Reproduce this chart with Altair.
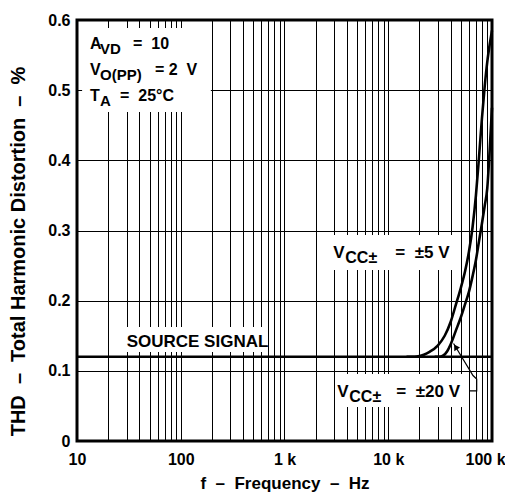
import altair as alt
import pandas as pd

FONT = "Liberation Sans"
NB = "\u00a0"

# axis grid / tick values
x_ticks = [10, 20, 30, 40, 50, 60, 70, 80, 90,
           100, 200, 300, 400, 500, 600, 700, 800, 900,
           1000, 2000, 3000, 4000, 5000, 6000, 7000, 8000, 9000,
           10000, 20000, 30000, 40000, 50000, 60000, 70000, 80000, 90000,
           100000]
y_ticks = [0, 0.1, 0.2, 0.3, 0.4, 0.5, 0.6]

# source signal (flat)
src_f = [10, 100000]
src_v = [0.12, 0.12]

# VCC = +-5 V
f_5v = [15000, 18000, 20000, 22000, 25000, 30000, 35000, 40000, 45000, 50000,
        55000, 60000, 65000, 70000, 75000, 80000, 85000, 90000, 95000, 100000]
v_5v = [0.12, 0.12, 0.121, 0.123, 0.127, 0.136, 0.150, 0.170, 0.195, 0.218,
        0.242, 0.270, 0.305, 0.350, 0.405, 0.460, 0.505, 0.540, 0.565, 0.585]

# VCC = +-20 V
f_20v = [28000, 31000, 34000, 37000, 40000, 45000, 50000, 55000, 60000, 65000,
         70000, 75000, 80000, 85000, 90000, 95000, 100000]
v_20v = [0.12, 0.12, 0.122, 0.128, 0.138, 0.158, 0.176, 0.195, 0.213, 0.235,
         0.258, 0.285, 0.310, 0.335, 0.360, 0.415, 0.475]

# white label backgrounds (Hz / %)
mask_f = [11.2, 22.2, 2745, 3133]
mask_f2 = [195, 660, 44000, 56000]
mask_v = [0.469, 0.1268, 0.2437, 0.0485]
mask_v2 = [0.5886, 0.1625, 0.2936, 0.0955]

# leader line for the +-20 V label
lead_f = [60000, 71200, 71200, 65600, 42600]
lead_v = [0.0713, 0.0713, 0.0884, 0.0933, 0.139]
arrow_f = [44600]
arrow_v = [0.1341]

# annotation text segments
lab_f = [13.35, 13.35, 13.35, 13.35, 13.35, 13.35, 13.35, 13.35, 13.35,
         30.1,
         2954, 2954, 2954,
         3228, 3228, 3228]
lab_v = [0.558, 0.558, 0.558, 0.521, 0.521, 0.521, 0.484, 0.484, 0.484,
         0.1344,
         0.2604, 0.2604, 0.2604,
         0.0631, 0.0631, 0.0631]
lab_text = ["A", "VD", "=  10", "V", "O(PP)", "= 2  V", "T", "A", "=  25°C",
            "SOURCE SIGNAL",
            "V", "CC±", "=  ±5 V",
            "V", "CC±", "=  ±20 V"]
lab_dx = [0, 10, 43, 0, 10, 65, 0, 10, 30,
          0,
          0, 12, 62,
          0, 12, 59]
lab_dy = [0, 5, 0, 0, 5, 0, 0, 5, 0,
          0,
          0, 5, 0,
          0, 5, 0]
lab_size = [16, 15, 16, 16, 15, 16, 16, 15, 16,
            17,
            17, 16, 17,
            17, 16, 17]

x_label_expr = ("datum.value == 10 ? '10' : datum.value == 100 ? '100' : "
                "datum.value == 1000 ? '1" + NB + "k' : datum.value == 10000 ? '10" + NB + "k' : "
                "datum.value == 100000 ? '100" + NB + "k' : ''")

x_axis = alt.Axis(values=x_ticks, labelExpr=x_label_expr, labelFlush=False,
                  labelOverlap=False, grid=True, gridColor="black", gridWidth=1,
                  gridOpacity=1, domain=False, ticks=False, labelPadding=10,
                  labelOffset={"condition": {"test": "datum.value == 100000", "value": -7},
                               "value": 0},
                  labelFontSize=16, labelFont=FONT, labelFontWeight="bold",
                  labelColor="black",
                  title=f"f{NB}{NB}–{NB}{NB}Frequency{NB}{NB}–{NB}{NB}Hz",
                  titleFont=FONT, titleFontSize=17, titleFontWeight="bold",
                  titleColor="black", titleY=47, titleBaseline="alphabetic")
y_axis = alt.Axis(values=y_ticks,
                  labelExpr="datum.value == 0 ? '0' : format(datum.value, '.1f')",
                  grid=True, gridColor="black", gridWidth=1, gridOpacity=1,
                  domain=False, ticks=False, labelPadding=7, labelFontSize=16,
                  labelFont=FONT, labelFontWeight="bold", labelColor="black",
                  title=f"THD{NB}{NB}–{NB}{NB}Total Harmonic Distortion{NB}{NB}–{NB}{NB}%",
                  titleFont=FONT,
                  titleFontSize=20, titleFontWeight="bold", titleColor="black",
                  titleAngle=270, titleX=-59, titleY=231, titleAlign="center",
                  titleBaseline="middle")

xs = alt.Scale(type="log", domain=[10, 100000], nice=False)
ys = alt.Scale(domain=[0, 0.6], nice=False, zero=False)


def X(field="f"):
    return alt.X(f"{field}:Q", scale=xs, axis=x_axis)


def Y(field="v"):
    return alt.Y(f"{field}:Q", scale=ys, axis=y_axis)


masks = alt.Chart(pd.DataFrame({"f": mask_f, "f2": mask_f2, "v": mask_v, "v2": mask_v2})).mark_rect(
    color="white").encode(x=X(), x2="f2:Q", y=Y(), y2="v2:Q")

rows = []
for f, v in zip(src_f, src_v):
    rows.append({"s": "src", "f": f, "v": v})
for f, v in zip(f_5v, v_5v):
    rows.append({"s": "5v", "f": f, "v": v})
for f, v in zip(f_20v, v_20v):
    rows.append({"s": "20v", "f": f, "v": v})
curves = alt.Chart(pd.DataFrame(rows)).mark_line(
    color="black", strokeWidth=2.6, interpolate="monotone").encode(
    x=X(), y=Y(), detail="s:N")

leader = alt.Chart(pd.DataFrame({"f": lead_f, "v": lead_v, "i": list(range(len(lead_f)))})).mark_line(
    color="black", strokeWidth=1.2).encode(x=X(), y=Y(), order="i:Q")
arrow = alt.Chart(pd.DataFrame({"f": arrow_f, "v": arrow_v})).mark_point(
    shape="triangle-up", filled=True, color="black", opacity=1, size=45, angle=328).encode(
    x=X(), y=Y())

layers = [masks, curves, leader, arrow]
for f, v, t, dx, dy, sz in zip(lab_f, lab_v, lab_text, lab_dx, lab_dy, lab_size):
    layers.append(
        alt.Chart(pd.DataFrame({"f": [f], "v": [v], "t": [t.replace(" ", NB)]})).mark_text(
            align="left", baseline="alphabetic", font=FONT, fontWeight="bold",
            fontSize=sz, color="black", dx=dx, dy=dy).encode(x=X(), y=Y(), text="t:N")
    )

chart = alt.layer(*layers).properties(
    width=415, height=421,
    autosize=alt.AutoSizeParams(type="none"),
    padding={"left": 69, "top": 12, "right": 13, "bottom": 52},
    background="white",
).configure_view(stroke="black", strokeWidth=3)

chart.save("out.html", embed_options={"renderer": "svg", "actions": False})
